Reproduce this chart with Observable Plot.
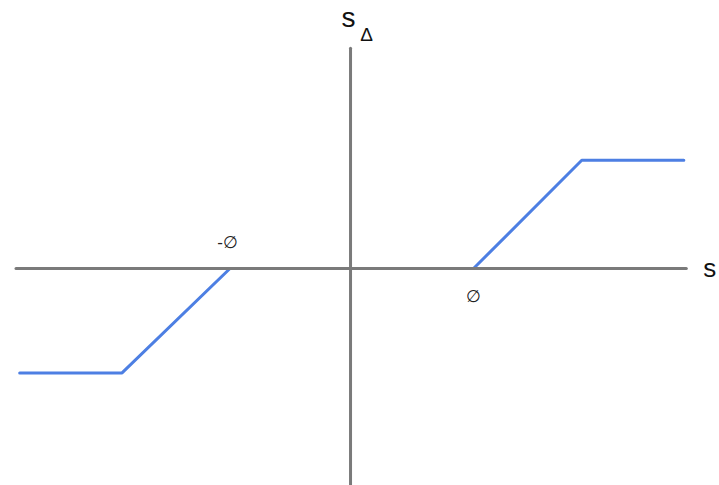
<!DOCTYPE html>
<html>
<head>
<meta charset="utf-8">
<script src="https://cdn.jsdelivr.net/npm/d3@7"></script>
<script src="https://cdn.jsdelivr.net/npm/@observablehq/plot@0.6"></script>
<style>
  html, body { margin: 0; padding: 0; background: #fff; }
  #chart svg { display: block; }
</style>
</head>
<body>
<div id="chart"></div>
<script>
// Dead-zone (soft threshold) function: zero between -∅ and ∅, linear ramp, then saturation.
// The flat zero part lies on the s axis, so only the two outer branches are drawn.
const branch = ["neg", "neg", "neg", "pos", "pos", "pos"];
const curveS = [-2.69, -1.86, -0.98, 1.0, 1.88, 2.71];
const curveSDelta = [-0.85, -0.85, 0, 0, 0.88, 0.88];

// Axis extents
const axisSExtent = [-2.72, 2.73];
const axisSDeltaExtent = [-1.77, 1.79];

// Threshold labels
const thresholdLabels = ["-∅", "∅"];
const thresholdS = [-1.0, 1.0];
const thresholdY = [0.21, -0.23];

const curve = curveS.map((s, i) => ({ s, d: curveSDelta[i], b: branch[i] }));
const labels = thresholdLabels.map((t, i) => ({ t, s: thresholdS[i], d: thresholdY[i] }));
const font = "Liberation Sans, Arial, sans-serif";

const chart = Plot.plot({
  width: 719,
  height: 485,
  margin: 0,
  x: { domain: [-2.846, 3.0], range: [0, 719], axis: null },
  y: { domain: [-1.764, 2.179], range: [485, 0], axis: null },
  marks: [
    Plot.line(curve, { x: "s", y: "d", z: "b", stroke: "#4d7fe3", strokeWidth: 3, strokeLinejoin: "miter" }),
    Plot.lineY(axisSExtent.map(s => ({ s, d: 0 })), { x: "s", y: "d", stroke: "#7a7a7a", strokeWidth: 3 }),
    Plot.lineX(axisSDeltaExtent.map(d => ({ s: 0, d })), { x: "s", y: "d", stroke: "#7a7a7a", strokeWidth: 3 }),
    Plot.text(labels, { x: "s", y: "d", text: "t", fontSize: 17, fill: "#222", fontFamily: font }),
    Plot.text(["s"], { x: 2.92, y: 0.0, text: d => d, fontSize: 26, fill: "#111", fontFamily: font }),
    Plot.text(["s"], { x: -0.016, y: 2.04, text: d => d, fontSize: 28, fill: "#111", fontFamily: font }),
    Plot.text(["Δ"], { x: 0.13, y: 1.9, text: d => d, fontSize: 19, fill: "#111", fontFamily: font })
  ]
});
document.getElementById("chart").append(chart);
</script>
</body>
</html>
